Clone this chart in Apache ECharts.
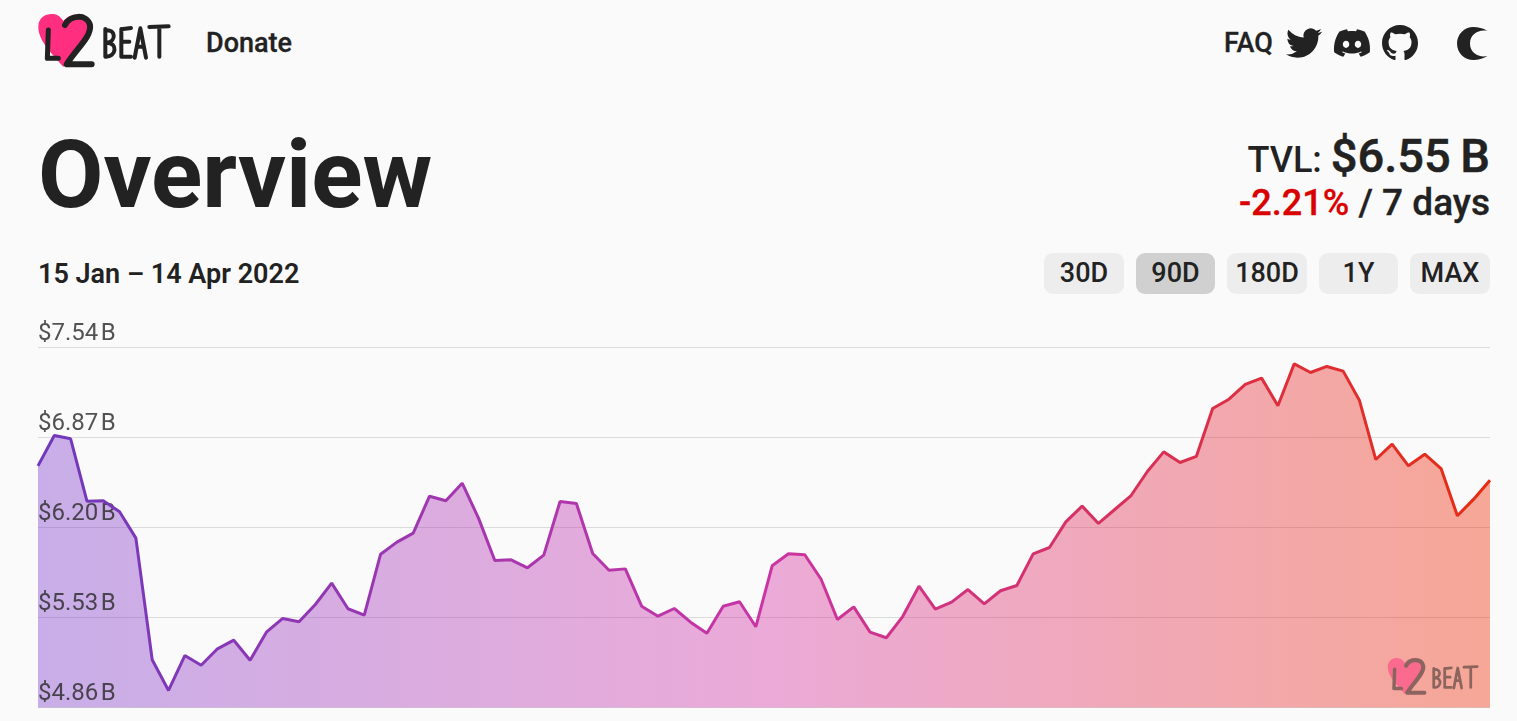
<!DOCTYPE html>
<html>
<head>
<meta charset="utf-8">
<script src="https://cdn.jsdelivr.net/npm/echarts@6/dist/echarts.min.js"></script>
<style>
html,body{margin:0;padding:0;width:1517px;height:721px;overflow:hidden;background:#fafafa;font-family:Roboto,sans-serif;color:#222}
.t{position:absolute;line-height:1;white-space:nowrap}
.btn{position:absolute;top:253px;height:41px;line-height:41px;border-radius:9px;background:#ededed;text-align:center;font-size:27px;font-weight:500}
.btn.on{background:#d0d0d0}
svg{position:absolute;overflow:visible}
#chart{position:absolute;left:0;top:300px;width:1517px;height:421px}
</style>
</head>
<body>
<svg width="0" height="0" style="position:absolute">
<defs>
<symbol id="logo" viewBox="0 0 450 210" overflow="visible">
<path fill="#ff2e7e" d="M100,185C60,140 25,105 25,65C25,35 50,25 70,27C85,28 95,40 100,48C110,35 130,25 150,28C175,32 185,60 175,90C165,125 130,160 100,185Z"/>
<g fill="none" stroke="#222" stroke-linecap="round" stroke-linejoin="round">
<path stroke-width="15" d="M55,75L52,160L85,160"/>
<path stroke-width="18" d="M105,60C120,30 170,25 180,60C185,95 140,130 110,178L185,178"/>
<path stroke-width="12" d="M226,72L226,155M226,76C258,71 260,110 230,113C264,113 260,157 226,155"/>
<path stroke-width="12" d="M274,72L274,155M274,73L303,69M274,110L298,110M274,155L303,155"/>
<path stroke-width="12" d="M314,158L331,70L348,158M320,125L342,125"/>
<path stroke-width="12" d="M358,66L416,64M388,66L388,155"/>
</g>
</symbol>
</defs>
</svg>

<svg style="left:30px;top:5px" width="150" height="70"><use href="#logo" width="150" height="70"/></svg>
<div class="t" style="left:206px;top:30px;font-size:27px;font-weight:500;-webkit-text-stroke:.3px #222">Donate</div>
<div class="t" style="left:1224px;top:30px;font-size:27px;font-weight:500;-webkit-text-stroke:.3px #222">FAQ</div>

<svg style="left:1286px;top:25px" width="36" height="36" viewBox="0 0 24 24"><path fill="#222" d="M23.953 4.57a10 10 0 01-2.825.775 4.958 4.958 0 002.163-2.723c-.951.555-2.005.959-3.127 1.184a4.92 4.92 0 00-8.384 4.482C7.69 8.095 4.067 6.13 1.64 3.162a4.822 4.822 0 00-.666 2.475c0 1.71.87 3.213 2.188 4.096a4.904 4.904 0 01-2.228-.616v.06a4.923 4.923 0 003.946 4.827 4.996 4.996 0 01-2.212.085 4.936 4.936 0 004.604 3.417 9.867 9.867 0 01-6.102 2.105c-.39 0-.779-.023-1.17-.067a13.995 13.995 0 007.557 2.209c9.053 0 13.998-7.496 13.998-13.985 0-.21 0-.42-.015-.63A9.935 9.935 0 0024 4.59z"/></svg>
<svg style="left:1334px;top:25px" width="36" height="36" viewBox="0 0 24 24"><path fill="#222" d="M20.317 4.3698a19.7913 19.7913 0 00-4.8851-1.5152.0741.0741 0 00-.0785.0371c-.211.3753-.4447.8648-.6083 1.2495-1.8447-.2762-3.68-.2762-5.4868 0-.1636-.3933-.4058-.8742-.6177-1.2495a.077.077 0 00-.0785-.037 19.7363 19.7363 0 00-4.8852 1.515.0699.0699 0 00-.0321.0277C.5334 9.0458-.319 13.5799.0992 18.0578a.0824.0824 0 00.0312.0561c2.0528 1.5076 4.0413 2.4228 5.9929 3.0294a.0777.0777 0 00.0842-.0276c.4616-.6304.8731-1.2952 1.226-1.9942a.076.076 0 00-.0416-.1057c-.6528-.2476-1.2743-.5495-1.8722-.8923a.077.077 0 01-.0076-.1277c.1258-.0943.2517-.1923.3718-.2914a.0743.0743 0 01.0776-.0105c3.9278 1.7933 8.18 1.7933 12.0614 0a.0739.0739 0 01.0785.0095c.1202.099.246.1981.3728.2924a.077.077 0 01-.0066.1276 12.2986 12.2986 0 01-1.873.8914.0766.0766 0 00-.0407.1067c.3604.698.7719 1.3628 1.225 1.9932a.076.076 0 00.0842.0286c1.961-.6067 3.9495-1.5219 6.0023-3.0294a.077.077 0 00.0313-.0552c.5004-5.177-.8382-9.6739-3.5485-13.6604a.061.061 0 00-.0312-.0286zM8.02 15.3312c-1.1825 0-2.1569-1.0857-2.1569-2.419 0-1.3332.9555-2.4189 2.157-2.4189 1.2108 0 2.1757 1.0952 2.1568 2.419 0 1.3332-.9555 2.4189-2.1569 2.4189zm7.9748 0c-1.1825 0-2.1569-1.0857-2.1569-2.419 0-1.3332.9554-2.4189 2.1569-2.4189 1.2108 0 2.1757 1.0952 2.1568 2.419 0 1.3332-.946 2.4189-2.1568 2.4189Z"/></svg>
<svg style="left:1382px;top:25px" width="36" height="36" viewBox="0 0 24 24"><path fill="#222" d="M12 0C5.37 0 0 5.37 0 12c0 5.31 3.435 9.795 8.205 11.385.6.105.825-.255.825-.57 0-.285-.015-1.23-.015-2.235-3.015.555-3.795-.735-4.035-1.41-.135-.345-.72-1.41-1.23-1.695-.42-.225-1.02-.78-.015-.795.945-.015 1.62.87 1.845 1.23 1.08 1.815 2.805 1.305 3.495.99.105-.78.42-1.305.765-1.605-2.67-.3-5.46-1.335-5.46-5.925 0-1.305.465-2.385 1.23-3.225-.12-.3-.54-1.53.12-3.18 0 0 1.005-.315 3.3 1.23.96-.27 1.98-.405 3-.405s2.04.135 3 .405c2.295-1.56 3.3-1.23 3.3-1.23.66 1.65.24 2.88.12 3.18.765.84 1.23 1.905 1.23 3.225 0 4.605-2.805 5.625-5.475 5.925.435.375.81 1.095.81 2.22 0 1.605-.015 2.895-.015 3.3 0 .315.225.69.825.57A12.02 12.02 0 0024 12c0-6.63-5.37-12-12-12z"/></svg>
<svg style="left:1457px;top:27px" width="31" height="33" viewBox="0 0 31 33"><path fill="#222" d="M30.500,4C26,1 21,0 16.500,0C7,0 0,7.500 0,16.500C0,25.500 7,33 16.500,33C21,33 26,31.500 30.500,29C22,31 13,26 13,16.500C13,7 22,2 30.500,4Z"/></svg>

<div class="t" style="left:38px;top:127px;font-size:95px;font-weight:700">Overview</div>
<div class="t" style="right:27px;top:132px;font-weight:500;font-size:36px">TVL: <span style="font-size:47px;-webkit-text-stroke:.5px #222">$6.55&#8201;B</span></div>
<div class="t" style="right:27px;top:184px;font-size:37px;font-weight:500;-webkit-text-stroke:.3px #222"><span style="color:#d90000;font-size:36px;-webkit-text-stroke:.3px #d90000">-2.21%</span> / 7 days</div>
<div class="t" style="left:38px;top:261px;font-size:27px;font-weight:600">15 Jan – 14 Apr 2022</div>

<div class="btn" style="left:1044px;width:80px">30D</div>
<div class="btn on" style="left:1136px;width:79px">90D</div>
<div class="btn" style="left:1227px;width:80px">180D</div>
<div class="btn" style="left:1319px;width:79px">1Y</div>
<div class="btn" style="left:1410px;width:80px">MAX</div>

<div id="chart"></div>
<svg style="left:1382px;top:652px;opacity:.5" width="103" height="48"><use href="#logo" width="103" height="48"/></svg>

<script>
const dayIndex = [0,1,2,3,4,5,6,7,8,9,10,11,12,13,14,15,16,17,18,19,20,21,22,23,24,25,26,27,28,29,30,31,32,33,34,35,36,37,38,39,40,41,42,43,44,45,46,47,48,49,50,51,52,53,54,55,56,57,58,59,60,61,62,63,64,65,66,67,68,69,70,71,72,73,74,75,76,77,78,79,80,81,82,83,84,85,86,87,88,89];
const tvlBillions = [
6.659,6.885,6.860,6.396,6.399,6.317,6.121,5.215,4.987,5.247,
5.175,5.297,5.361,5.212,5.421,5.523,5.498,5.627,5.786,5.595,
5.547,6.001,6.091,6.158,6.433,6.399,6.530,6.270,5.954,5.959,
5.900,5.994,6.394,6.379,6.006,5.882,5.892,5.614,5.540,5.597,
5.495,5.413,5.614,5.647,5.461,5.915,6.004,5.997,5.815,5.515,
5.609,5.421,5.379,5.537,5.763,5.592,5.644,5.738,5.632,5.729,
5.768,6.004,6.051,6.242,6.359,6.230,6.334,6.438,6.617,6.763,
6.684,6.729,7.086,7.155,7.265,7.312,7.106,7.418,7.354,7.399,
7.364,7.145,6.706,6.820,6.659,6.746,6.639,6.287,6.411,6.552];
const yTicks = [4.86,5.53,6.20,6.87,7.54];
const lineColors = ['#7038bc','#c935a5','#e62c10'];
const areaColors = ['#7d3ccd','#d432a5','#f02a00'];

const chart = echarts.init(document.getElementById('chart'), null, {renderer:'canvas'});
const grad = (c) => new echarts.graphic.LinearGradient(0,0,1,0,[
  {offset:0,color:c[0]},{offset:.5,color:c[1]},{offset:1,color:c[2]}]);
chart.setOption({
  animation:false,
  backgroundColor:'transparent',
  grid:{left:38,right:27,top:47.5,bottom:13.5,containLabel:false},
  tooltip:{show:false},
  xAxis:{type:'category',data:dayIndex,boundaryGap:false,show:false},
  yAxis:{type:'value',min:yTicks[0],max:yTicks[4],z:3,
    axisLine:{show:false},
    axisTick:{show:false,customValues:yTicks},
    splitLine:{show:true,lineStyle:{color:'rgba(0,0,0,0.12)',width:1}},
    axisLabel:{show:true,inside:true,margin:0,customValues:yTicks,verticalAlign:'bottom',
      padding:[0,0,1.500,0],fontFamily:'Roboto',fontSize:24,color:'rgba(40,40,40,0.8)',
      formatter:(v)=>'$'+v.toFixed(2)+'\u200AB',hideOverlap:false,showMinLabel:true,showMaxLabel:true}},
  series:[{type:'line',data:tvlBillions,showSymbol:false,smooth:false,
    lineStyle:{width:3,color:grad(lineColors)},
    areaStyle:{color:grad(areaColors),opacity:.4}}]
});
</script>
</body>
</html>
